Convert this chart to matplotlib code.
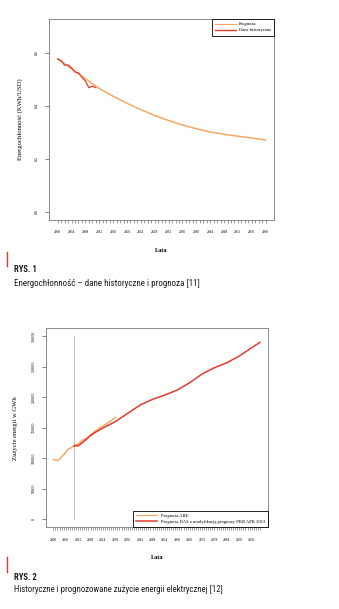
import matplotlib
matplotlib.use("Agg")
import matplotlib.pyplot as plt
from matplotlib.lines import Line2D
from matplotlib import font_manager

# ---------------- data: chart 1 ----------------
prog1_years = [2000, 2004, 2008, 2012, 2016, 2020, 2024, 2028, 2032, 2036, 2040, 2044, 2048, 2052, 2056, 2060]
prog1_vals = [0.578, 0.540, 0.503, 0.466, 0.437, 0.410, 0.386, 0.364, 0.345, 0.328, 0.314, 0.302, 0.293, 0.286, 0.279, 0.272]
hist1_years = [2000, 2001, 2002, 2003, 2004, 2005, 2006, 2007, 2008, 2009, 2010, 2011]
hist1_vals = [0.577, 0.571, 0.554, 0.555, 0.544, 0.528, 0.525, 0.508, 0.494, 0.469, 0.475, 0.469]
x1_tick_years = list(range(2000, 2061))
x1_label_years = list(range(2000, 2061, 4))
y1_ticks = [0.0, 0.2, 0.4, 0.6]
y1_ticklabels = ["0.0", "0.2", "0.4", "0.6"]
legend1 = ["Prognoza", "Dane historyczne"]

# ---------------- data: chart 2 ----------------
are_years = [2000, 2001, 2002, 2003, 2004, 2005, 2006, 2007, 2008, 2009, 2010, 2011, 2012,
             2014, 2016, 2018, 2020, 2022, 2024, 2026, 2028, 2030]
are_vals = [98100, 97000, 96000, 98500, 102500, 105200, 109600, 114500, 116100, 117800, 120000,
            122100, 123500, 128700, 132500, 138000, 143400, 148300, 152700, 157000, 161400, 166900]
das_years = [2010, 2011, 2012, 2013, 2014, 2016, 2018, 2020, 2024, 2030, 2036, 2042, 2048, 2054,
             2060, 2066, 2072, 2078, 2084, 2090, 2096, 2100]
das_vals = [120000, 120500, 120000, 122700, 125400, 130900, 136900, 141800, 149400, 159800, 173400,
            187000, 196300, 203400, 211600, 223600, 237800, 248100, 256300, 267200, 280800, 289600]
x2_tick_years = list(range(2000, 2101))
x2_label_years = list(range(2000, 2097, 6))
y2_ticks = [0, 50000, 100000, 150000, 200000, 250000, 300000]
split_year = 2010
legend2 = ["Prognoza ARE", "Prognoza DAS z modyfikacją prognozy PKB APK 2013"]

captions = [("RYS. 1", "Energochłonność – dane historyczne i prognoza [11]"),
            ("RYS. 2", "Historyczne i prognozowane zużycie energii elektrycznej [12]")]

ORANGE = "#F5A863"
RED = "#E23A2C"
FRAME = "#7a7a7a"
SERIF = ["Liberation Serif", "DejaVu Serif"]

# pick the narrowest installed sans family for the captions
names = {f.name for f in font_manager.fontManager.ttflist}
cap_family = "DejaVu Sans"
for cand in ["Liberation Sans Narrow", "Roboto Condensed", "Open Sans Condensed",
             "DejaVu Sans Condensed", "Noto Sans Condensed"]:
    if cand in names:
        cap_family = cand
        break
CAP = [cap_family, "DejaVu Sans"]

W, H = 339, 609
fig = plt.figure(figsize=(W / 100, H / 100), dpi=100)


def box(l, t, r, b):
    return [l / W, 1 - b / H, (r - l) / W, (b - t) / H]


def style(ax, xticks, xlabels_years, yticks, ylabels):
    for s in ax.spines.values():
        s.set_color(FRAME)
        s.set_linewidth(0.6)
    ax.set_xticks(xticks)
    ax.set_xticklabels([str(y) if y in xlabels_years else "" for y in xticks],
                       fontsize=2.6, family=SERIF)
    ax.set_yticks(yticks)
    ax.set_yticklabels(ylabels, fontsize=2.8, family=SERIF, rotation=90, va="center")
    ax.tick_params(axis="x", length=2.5, width=0.4, color="#555555", pad=5)
    ax.tick_params(axis="y", length=3.0, width=0.5, color="#555555", pad=4)


# ---------------- chart 1 ----------------
ax1 = fig.add_axes(box(49, 19, 274, 220))
ax1.plot(prog1_years, prog1_vals, color=ORANGE, lw=1.1)
ax1.plot(hist1_years, hist1_vals, color=RED, lw=0.9)
ax1.set_xlim(1997.5, 2062.4)
ax1.set_ylim(-0.03, 0.728)
style(ax1, x1_tick_years, x1_label_years, y1_ticks, y1_ticklabels)
ax1.set_ylabel("Energochłonność (KWh/USD)", fontsize=4.8, family=SERIF)
ax1.yaxis.set_label_coords(-0.116, 0.5)
ax1.set_xlabel("Lata", fontsize=4.6, family=SERIF, fontweight="bold")
ax1.xaxis.set_label_coords(0.5, -0.139)
h1 = [Line2D([], [], color=ORANGE, lw=0.8), Line2D([], [], color=RED, lw=1.0)]
lg1 = ax1.legend(h1, legend1, loc="upper right", bbox_to_anchor=(1, 1), borderaxespad=0,
                 prop={"family": SERIF, "size": 3.3}, fancybox=False, framealpha=1,
                 handlelength=4.5, borderpad=0.7, labelspacing=0.4, handletextpad=0.6)
lg1.get_frame().set_edgecolor("black")
lg1.get_frame().set_linewidth(0.6)

# ---------------- chart 2 ----------------
ax2 = fig.add_axes(box(45.7, 328.3, 268, 527.3))
ax2.axvline(split_year, ymin=(0 + 13100) / 325700, ymax=(300000 + 13100) / 325700,
            color="#bdbdbd", lw=0.7)
ax2.plot(are_years, are_vals, color=ORANGE, lw=1.1)
ax2.plot(das_years, das_vals, color=RED, lw=1.1)
ax2.set_xlim(1996.3, 2103.9)
ax2.set_ylim(-13100, 312600)
style(ax2, x2_tick_years, x2_label_years, y2_ticks, [str(v) for v in y2_ticks])
ax2.set_ylabel("Zużycie energii w GWh", fontsize=4.8, family=SERIF)
ax2.yaxis.set_label_coords(-0.125, 0.5)
ax2.set_xlabel("Lata", fontsize=4.6, family=SERIF, fontweight="bold")
ax2.xaxis.set_label_coords(0.5, -0.139)
h2 = [Line2D([], [], color=ORANGE, lw=0.9), Line2D([], [], color=RED, lw=1.1)]
lg2 = ax2.legend(h2, legend2, loc="lower right", bbox_to_anchor=(1, 0), borderaxespad=0,
                 prop={"family": SERIF, "size": 3.3}, fancybox=False, framealpha=1,
                 handlelength=4.5, borderpad=0.7, labelspacing=0.4, handletextpad=0.8)
lg2.get_frame().set_edgecolor("black")
lg2.get_frame().set_linewidth(0.6)

# ---------------- captions ----------------
renderer = fig.canvas.get_renderer()
target_widths = [184, 208]   # pixel widths of the caption lines in the reference
for (label, text), (bar_top, bar_bot, y_lab, y_txt), tw in zip(
        captions, [(252, 266, 270, 283), (557, 572, 578, 590)], target_widths):
    fig.add_artist(Line2D([7 / W, 7 / W], [1 - bar_top / H, 1 - bar_bot / H],
                          color=RED, lw=1.0, transform=fig.transFigure))
    t = fig.text(14 / W, 1 - y_txt / H, text, fontsize=6.5, family=CAP,
                 fontstretch="condensed", va="center", ha="left", color="#1a1a1a")
    w = t.get_window_extent(renderer).width
    t.set_fontsize(min(7.5, 6.5 * tw / w))
    lab = fig.text(14 / W, 1 - y_lab / H, label, fontsize=7.0, fontweight="bold",
                   family=CAP, fontstretch="condensed", va="center", ha="left",
                   color="#1a1a1a")
    lw_ = lab.get_window_extent(renderer).width
    lab.set_fontsize(min(8.0, 7.0 * 23.0 / lw_))

fig.savefig("out.png", dpi=100)
